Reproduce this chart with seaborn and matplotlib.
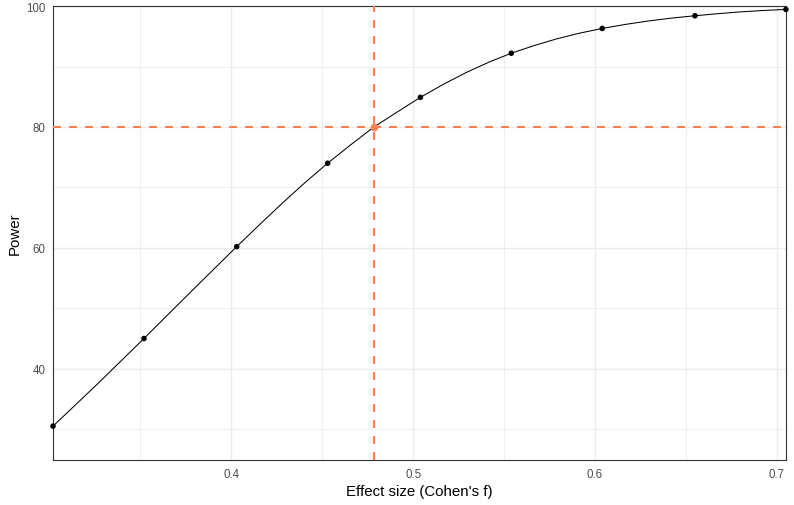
import numpy as np
import pandas as pd
import matplotlib
matplotlib.use("Agg")
import matplotlib.pyplot as plt
from matplotlib.ticker import MultipleLocator
import seaborn as sns

# effect sizes and power
effect_size = [0.302, 0.352, 0.403, 0.453, 0.504, 0.554, 0.604, 0.655, 0.705]
power = [30.5, 45.0, 60.2, 74.0, 84.9, 92.2, 96.3, 98.4, 99.45]

# smooth curve
curve_x = [0.302, 0.327, 0.352, 0.3775, 0.403, 0.4156, 0.428, 0.4404,
           0.453, 0.4656, 0.4785, 0.4913, 0.504, 0.5166, 0.529, 0.5415,
           0.554, 0.5666, 0.579, 0.5915, 0.604, 0.6168, 0.6295, 0.6423,
           0.655, 0.6675, 0.680, 0.6925, 0.705]
curve_y = [30.5, 37.64, 45.0, 52.64, 60.2, 63.85, 67.37, 70.75,
           74.0, 77.03, 80.0, 82.48, 84.9, 87.05, 88.98, 90.7,
           92.2, 93.47, 94.58, 95.52, 96.3, 96.97, 97.54, 98.02,
           98.4, 98.74, 99.04, 99.27, 99.45]

target_power = 80
target_effect = 0.4785

sns.set_theme(style="white")
plt.rcParams["font.family"] = ["Liberation Sans", "DejaVu Sans"]

df_pts = pd.DataFrame({"f": effect_size, "power": power})
df_curve = pd.DataFrame({"f": curve_x, "power": curve_y})

fig = plt.figure(figsize=(7.94, 5.06), dpi=100)
ax = fig.add_axes([0.0668, 0.089, 0.923, 0.897])

grid_col = "#EBEBEB"
ax.xaxis.set_major_locator(MultipleLocator(0.1))
ax.xaxis.set_minor_locator(MultipleLocator(0.05))
ax.yaxis.set_major_locator(MultipleLocator(20))
ax.yaxis.set_minor_locator(MultipleLocator(10))
ax.grid(which="major", color=grid_col, linewidth=1.0)
ax.grid(which="minor", color=grid_col, linewidth=0.6)
ax.set_axisbelow(True)

sns.lineplot(data=df_curve, x="f", y="power", color="black", linewidth=0.75, ax=ax)
sns.scatterplot(data=df_pts, x="f", y="power", color="black", s=16,
                edgecolor="none", ax=ax, zorder=5, clip_on=False)

ax.axhline(target_power, color="#FF7F50", linewidth=1.44, dashes=(4, 4), zorder=4)
ax.axvline(target_effect, color="#FF7F50", linewidth=1.44, dashes=(4, 4), zorder=4)
ax.scatter([target_effect], [target_power], color="#FF7F50", s=20, zorder=6)

ax.set_xlim(0.302, 0.705)
ax.set_ylim(24.9, 100)

for s in ax.spines.values():
    s.set_color("#333333")
    s.set_linewidth(0.8)

ax.tick_params(which="major", direction="out", length=3, width=0.8, color="#333333",
               labelsize=8.3, labelcolor="#4D4D4D", pad=2.5)
ax.tick_params(which="minor", length=0)
ax.set_xticks([0.4, 0.5, 0.6, 0.7])
ax.set_xticklabels(["0.4", "0.5", "0.6", "0.7"])
ax.set_yticks([40, 60, 80, 100])
ax.set_yticklabels(["40", "60", "80", "100"])

ax.set_xlabel("Effect size (Cohen's f)", fontsize=10.8, color="black", labelpad=3)
ax.set_ylabel("Power", fontsize=10.8, color="black", labelpad=3)

fig.savefig("out.png", dpi=100)
